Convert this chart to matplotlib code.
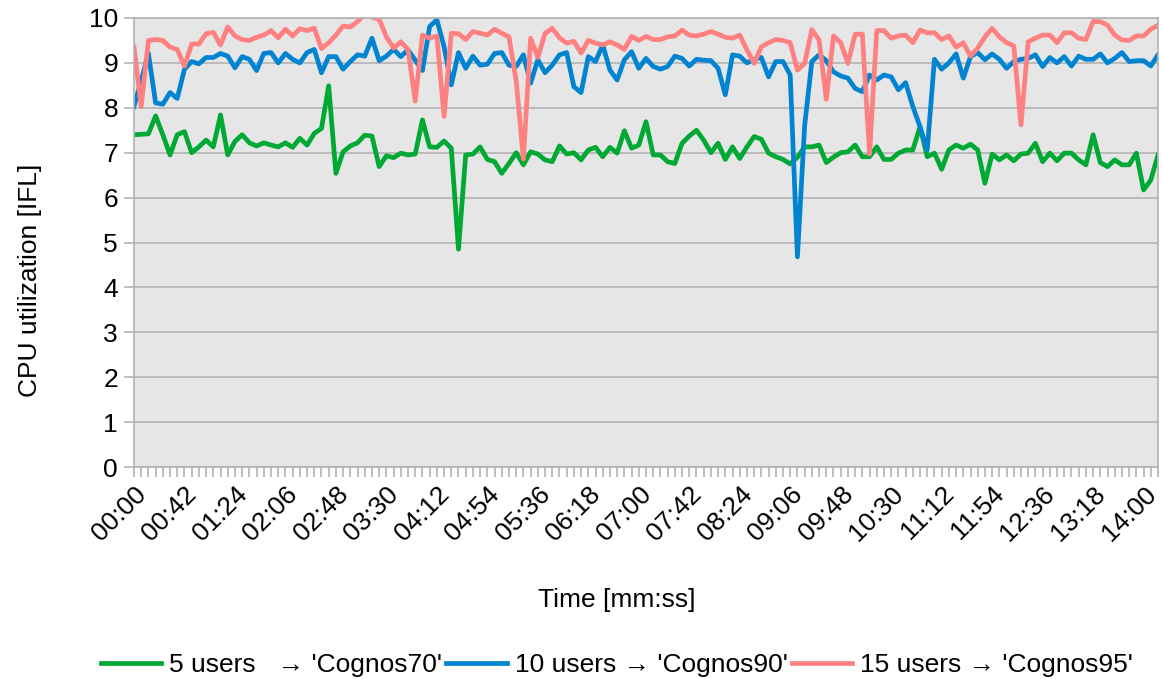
import matplotlib
matplotlib.use("Agg")
import matplotlib.pyplot as plt

# Samples every 6 s, 00:00 .. 14:12 (143 points)
tick_labels = ["00:00", "00:42", "01:24", "02:06", "02:48", "03:30", "04:12",
               "04:54", "05:36", "06:18", "07:00", "07:42", "08:24", "09:06",
               "09:48", "10:30", "11:12", "11:54", "12:36", "13:18", "14:00"]
label_every = 7

users_5 = [
    7.40, 7.41, 7.42, 7.82, 7.40, 6.95, 7.40, 7.47, 7.00, 7.13,
    7.28, 7.13, 7.84, 6.95, 7.25, 7.40, 7.22, 7.15, 7.22, 7.17,
    7.13, 7.22, 7.12, 7.32, 7.17, 7.43, 7.54, 8.49, 6.54, 7.02,
    7.15, 7.22, 7.39, 7.37, 6.69, 6.93, 6.89, 6.99, 6.95, 6.97,
    7.73, 7.13, 7.12, 7.26, 7.10, 4.85, 6.95, 6.97, 7.13, 6.85,
    6.80, 6.54, 6.76, 7.00, 6.73, 7.02, 6.97, 6.84, 6.80, 7.15,
    6.97, 7.00, 6.84, 7.06, 7.12, 6.91, 7.12, 6.99, 7.49, 7.10,
    7.17, 7.69, 6.95, 6.95, 6.80, 6.76, 7.21, 7.37, 7.50, 7.28,
    7.00, 7.21, 6.85, 7.13, 6.87, 7.13, 7.36, 7.30, 6.99, 6.91,
    6.85, 6.75, 6.90, 7.13, 7.13, 7.17, 6.78, 6.90, 7.00, 7.02,
    7.17, 6.91, 6.91, 7.13, 6.85, 6.85, 6.99, 7.06, 7.06, 7.58,
    6.91, 6.99, 6.63, 7.06, 7.17, 7.10, 7.19, 7.06, 6.32, 6.97,
    6.84, 6.95, 6.82, 6.97, 6.99, 7.21, 6.80, 6.99, 6.82, 6.99,
    6.99, 6.84, 6.73, 7.40, 6.78, 6.69, 6.84, 6.73, 6.73, 6.99,
    6.17, 6.39, 6.95]

users_10 = [
    8.03, 8.60, 9.21, 8.11, 8.08, 8.34, 8.21, 8.86, 9.03, 8.98,
    9.12, 9.12, 9.21, 9.15, 8.89, 9.14, 9.08, 8.83, 9.21, 9.23,
    9.00, 9.21, 9.08, 9.00, 9.23, 9.30, 8.78, 9.14, 9.14, 8.86,
    9.03, 9.18, 9.15, 9.55, 9.05, 9.15, 9.30, 9.14, 9.29, 9.06,
    8.83, 9.81, 9.96, 9.36, 8.51, 9.23, 8.88, 9.15, 8.95, 8.97,
    9.21, 9.23, 8.95, 8.92, 9.18, 8.55, 9.07, 8.78, 8.95, 9.18,
    9.23, 8.47, 8.34, 9.14, 9.03, 9.40, 8.84, 8.62, 9.07, 9.25,
    8.88, 9.10, 8.92, 8.86, 8.92, 9.15, 9.10, 8.93, 9.08, 9.06,
    9.05, 8.88, 8.29, 9.18, 9.15, 9.00, 9.08, 9.12, 8.69, 9.03,
    9.03, 8.73, 4.68, 7.60, 9.03, 9.18, 9.05, 8.80, 8.71, 8.66,
    8.43, 8.36, 8.73, 8.62, 8.73, 8.69, 8.40, 8.56, 8.03, 7.58,
    7.06, 9.08, 8.86, 9.00, 9.20, 8.66, 9.14, 9.23, 9.07, 9.20,
    9.08, 8.88, 9.03, 9.08, 9.10, 9.18, 8.92, 9.12, 9.00, 9.14,
    8.93, 9.15, 9.08, 9.08, 9.20, 9.00, 9.10, 9.23, 9.03, 9.05,
    9.05, 8.93, 9.18]

users_15 = [
    9.35, 8.03, 9.50, 9.52, 9.50, 9.35, 9.30, 8.93, 9.42, 9.42,
    9.65, 9.68, 9.40, 9.80, 9.60, 9.52, 9.50, 9.57, 9.62, 9.72,
    9.56, 9.75, 9.60, 9.76, 9.72, 9.77, 9.32, 9.45, 9.62, 9.82,
    9.80, 9.92, 10.08, 10.02, 9.97, 9.58, 9.33, 9.47, 9.30, 8.15,
    9.62, 9.55, 9.60, 7.81, 9.66, 9.65, 9.52, 9.70, 9.66, 9.62,
    9.75, 9.66, 9.58, 8.60, 6.86, 9.55, 9.12, 9.66, 9.77, 9.56,
    9.44, 9.48, 9.22, 9.50, 9.44, 9.40, 9.47, 9.40, 9.30, 9.59,
    9.50, 9.59, 9.52, 9.52, 9.58, 9.60, 9.73, 9.62, 9.60, 9.64,
    9.70, 9.64, 9.57, 9.55, 9.62, 9.29, 8.99, 9.36, 9.45, 9.52,
    9.50, 9.45, 8.84, 8.99, 9.74, 9.51, 8.19, 9.60, 9.45, 8.99,
    9.64, 9.64, 6.97, 9.72, 9.72, 9.55, 9.60, 9.62, 9.45, 9.73,
    9.67, 9.67, 9.52, 9.60, 9.35, 9.45, 9.15, 9.33, 9.58, 9.77,
    9.58, 9.45, 9.38, 7.62, 9.47, 9.55, 9.62, 9.62, 9.45, 9.67,
    9.67, 9.55, 9.52, 9.92, 9.92, 9.84, 9.62, 9.51, 9.50, 9.60,
    9.60, 9.75, 9.84]

series = [
    (users_5, "5 users   \u2192 'Cognos70'", "#00a933"),
    (users_10, "10 users \u2192 'Cognos90'", "#0084d1"),
    (users_15, "15 users \u2192 'Cognos95'", "#ff8080"),
]

FS = 19
plt.rcParams['font.family'] = ['Liberation Sans', 'DejaVu Sans']
plt.rcParams['font.size'] = FS

fig = plt.figure(figsize=(11.63, 6.79), dpi=100)
ax = fig.add_axes([0.1152, 0.3122, 0.8805, 0.6613])
ax.set_facecolor("#e6e6e6")

x = list(range(len(users_5)))
for values, label, color in series:
    ax.plot(x, values, color=color, lw=3.4, label=label,
            solid_joinstyle="round")

ax.set_xlim(0, len(x) - 1)
ax.set_ylim(0, 10)
ax.set_yticks(range(0, 11))
ax.grid(axis="y", color="#b3b3b3", lw=1.2)
ax.set_axisbelow(True)

# every sample gets a tick, every 7th gets a label
ax.set_xticks(x)
xlabels = [""] * len(x)
for i, lab in enumerate(tick_labels):
    xlabels[i * label_every] = lab
ax.set_xticklabels(xlabels, rotation=45, ha="right", rotation_mode="anchor")

for s in ax.spines.values():
    s.set_color("#b3b3b3")
    s.set_linewidth(1.2)
ax.tick_params(axis="both", color="#b3b3b3", width=1.2, length=7.5,
               labelsize=FS)
ax.tick_params(axis="y", pad=4)
ax.tick_params(axis="x", pad=3)

ax.set_xlabel("Time [mm:ss]", fontsize=FS)
ax.xaxis.set_label_coords(0.4717, -0.296)
ax.xaxis.label.set_va("center")
ax.set_ylabel("CPU utilization [IFL]", fontsize=FS)
ax.yaxis.set_label_coords(-0.1016, 0.4165)
ax.yaxis.label.set_va("center")

fig.legend(loc="center", bbox_to_anchor=(0.5305, 0.02), ncol=3,
           frameon=False, handlelength=2.3, handletextpad=0.3,
           columnspacing=0.15, fontsize=FS, borderaxespad=0)

fig.savefig("out.png", dpi=100)
